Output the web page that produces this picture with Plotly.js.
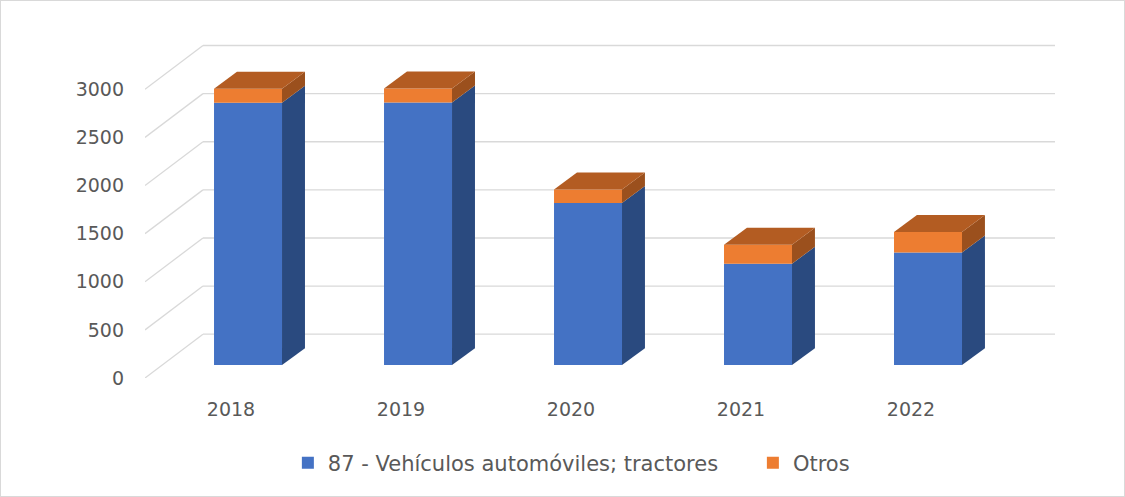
<!DOCTYPE html>
<html>
<head>
<meta charset="utf-8">
<script src="https://cdn.plot.ly/plotly-3.0.1.min.js"></script>
<style>
html,body{margin:0;padding:0;background:#fff;}
#chart{width:1123px;height:495px;border:1px solid #d9d9d9;}
</style>
</head>
<body>
<div id="chart"></div>
<script>
// ---- data ----
const years = ['2018', '2019', '2020', '2021', '2022'];
const vehiculos = [2727, 2730, 1684, 1054, 1170];
const otros = [145, 145, 141, 196, 214];
const yTicks = [0, 500, 1000, 1500, 2000, 2500, 3000];
const seriesNames = ['87 - Vehículos automóviles; tractores', 'Otros'];

// ---- 3D look (style constants, in axis units) ----
const LIFT = 134;      // bar front face above the front floor plane
const SHIFT = 0.1;     // bar front face x shift from category
const BW = 0.4;        // bar width
const DX = 0.135, DY = 176;   // bar depth
const WX = 0.341, WY = 455;   // back wall depth
const XL = -0.506, XR = 4.847;

const colors = {
  front: ['#4472C4', '#ED7D31'],
  side: ['#2A4A7F', '#9B501D'],
  top: ['#B35C22', '#B35C22']
};
const legendIds = ['legend', 'legend2'];

const xs = years.map((_, i) => i + SHIFT);
const series = [vehiculos, otros];
const traces = [];
const faces = [];

series.forEach((vals, s) => {
  const base = vals.map((_, i) => LIFT + (s === 0 ? 0 : vehiculos[i]));
  traces.push({
    type: 'bar', x: xs, y: vals, base: base, width: BW,
    name: seriesNames[s], legend: legendIds[s],
    marker: {color: colors.front[s], line: {width: 0}},
    hoverinfo: 'y+name'
  });
  vals.forEach((v, i) => {
    const xr = xs[i] + BW / 2, xl = xs[i] - BW / 2;
    const b0 = base[i], b1 = base[i] + v;
    faces.push({
      type: 'scatter', mode: 'lines', fill: 'toself',
      x: [xr, xr + DX, xr + DX, xr, xr],
      y: [b0, b0 + DY, b1 + DY, b1, b0],
      fillcolor: colors.side[s], line: {width: 0, color: colors.side[s]},
      showlegend: false, hoverinfo: 'skip'
    });
    if (s === series.length - 1) {
      faces.push({
        type: 'scatter', mode: 'lines', fill: 'toself',
        x: [xl, xr, xr + DX, xl + DX, xl],
        y: [b1, b1, b1 + DY, b1 + DY, b1],
        fillcolor: colors.top[s], line: {width: 0, color: colors.top[s]},
        showlegend: false, hoverinfo: 'skip'
      });
    }
  });
});

const shapes = [];
yTicks.forEach(v => {
  shapes.push({type: 'line', xref: 'x', yref: 'y', layer: 'below',
    x0: XL, y0: v, x1: XL + WX, y1: v + WY, line: {color: '#d9d9d9', width: 1.3}});
  shapes.push({type: 'line', xref: 'x', yref: 'y', layer: 'below',
    x0: XL + WX, y0: v + WY, x1: XR, y1: v + WY, line: {color: '#d9d9d9', width: 1.3}});
});

const legendStyle = {orientation: 'h', xanchor: 'left', y: -0.25, yanchor: 'middle',
  font: {size: 21, color: '#595959'}};

const layout = {
  width: 1123, height: 495,
  margin: {l: 144, r: 69, t: 37, b: 116},
  paper_bgcolor: '#ffffff', plot_bgcolor: '#ffffff',
  font: {family: '"DejaVu Sans", sans-serif', size: 19, color: '#595959'},
  barmode: 'overlay',
  showlegend: true,
  legend: Object.assign({x: 0.157}, legendStyle),
  legend2: Object.assign({x: 0.668}, legendStyle),
  xaxis: {range: [XL, XR], tickvals: years.map((_, i) => i), ticktext: years,
    showgrid: false, zeroline: false, showline: false, ticks: '', ticklabelstandoff: 18,
    fixedrange: true},
  yaxis: {range: [0, 3533], tickvals: yTicks, ticktext: yTicks.map(String),
    showgrid: false, zeroline: false, showline: false, ticks: '', ticklabelstandoff: 20,
    fixedrange: true},
  shapes: shapes
};

Plotly.newPlot('chart', traces.concat(faces), layout, {displayModeBar: false, staticPlot: true});
</script>
</body>
</html>
